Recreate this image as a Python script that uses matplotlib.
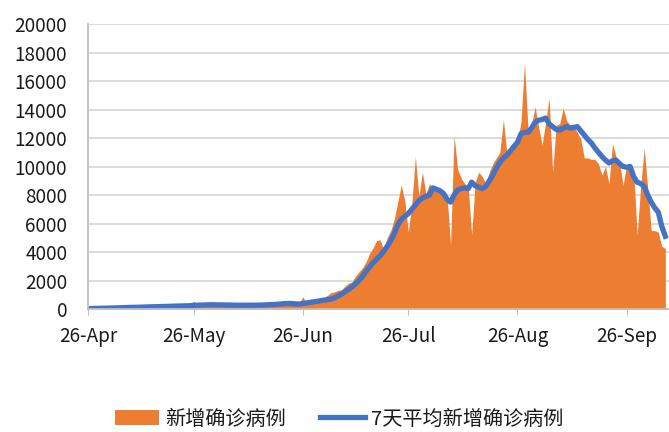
import pandas as pd
import numpy as np
import matplotlib
matplotlib.use("Agg")
import matplotlib.pyplot as plt
import matplotlib.dates as mdates

plt.rcParams['font.family'] = ['Noto Sans CJK SC', 'DejaVu Sans']

start_date = "2021-04-26"

# daily new confirmed cases
new_cases = [
    5, 10, 15, 20, 10, 30, 40, 50, 60, 70,
    80, 90, 110, 100, 120, 130, 150, 140, 160, 170,
    180, 200, 190, 210, 230, 220, 240, 250, 230, 260,
    550, 300, 260, 280, 350, 320, 290, 270, 300, 280,
    260, 250, 240, 270, 250, 230, 260, 280, 270, 290,
    300, 320, 340, 360, 380, 400, 420, 380, 350, 330,
    400, 860, 450, 500, 550, 600, 700, 800, 950, 1150,
    1200, 1300, 1350, 1600, 1800, 1900, 2300, 2600, 2900, 3300,
    3900, 4300, 4800, 4850, 4150, 5000, 5500, 6300, 7500, 8700,
    7600, 5400, 7400, 10700, 7900, 9600, 8100, 8800, 8400, 8600,
    8200, 7800, 8000, 4500, 12200, 9800, 9200, 8800, 8600, 5200,
    8900, 9600, 9300, 8800, 9600, 10200, 10600, 11000, 13300, 10900,
    11300, 11700, 11900, 13100, 17300, 12600, 12900, 14200, 12800, 11500,
    13100, 14800, 9600, 12900, 13000, 14100, 13200, 12900, 12800, 12400,
    11900, 10600, 10600, 10500, 10500, 10200, 9400, 10000, 8800, 11600,
    10700, 10300, 8700, 10100, 10000, 9800, 5200, 8600, 11300, 8500,
    5500, 5500, 5400, 4400, 4250,
]

# 7-day average line
avg_7d = [
    30, 35, 40, 45, 50, 55, 60, 70, 80, 90,
    100, 105, 110, 115, 120, 130, 140, 150, 155, 160,
    170, 175, 180, 190, 200, 205, 210, 220, 225, 230,
    260, 270, 275, 280, 290, 300, 295, 290, 285, 280,
    280, 275, 270, 265, 265, 260, 260, 265, 270, 275,
    285, 300, 310, 320, 340, 360, 380, 390, 380, 360,
    350, 380, 420, 460, 500, 540, 580, 620, 660, 680,
    780, 900, 1050, 1200, 1380, 1550, 1780, 2000, 2300, 2650,
    2950, 3250, 3500, 3750, 4050, 4400, 4800, 5300, 5900, 6300,
    6500, 6700, 7000, 7300, 7600, 7800, 7900, 8000, 8500, 8400,
    8300, 8100, 7700, 7500, 8000, 8350, 8450, 8500, 8450, 8900,
    8650, 8550, 8450, 8600, 9000, 9400, 9900, 10300, 10600, 10800,
    11100, 11400, 11700, 12300, 12400, 12400, 12700, 13100, 13250, 13300,
    13400, 13000, 12800, 12600, 12550, 12700, 12800, 12700, 12750, 12800,
    12500, 12200, 11900, 11650, 11300, 11000, 10700, 10450, 10250, 10400,
    10450, 10200, 10000, 9950, 10000, 9300, 8900, 8800, 8600, 8000,
    7500, 7100, 6800, 5800, 5100,
]

tick_dates = ["2021-04-26", "2021-05-26", "2021-06-26", "2021-07-26", "2021-08-26", "2021-09-26"]
y_ticks = list(range(0, 20001, 2000))

dates = pd.date_range(start_date, periods=len(new_cases), freq="D")

fig = plt.figure(figsize=(6.69, 4.32), dpi=100)
ax = fig.add_axes([0.1315, 0.2847, 1 - 0.1315, 0.9444 - 0.2847])

ax.fill_between(dates, new_cases, color="#ED7D31", linewidth=0, label="新增确诊病例")
ax.plot(dates, avg_7d, color="#4472C4", linewidth=3.8, solid_joinstyle="round",
        label="7天平均新增确诊病例")

ax.set_xlim(pd.Timestamp(start_date), pd.Timestamp(start_date) + pd.Timedelta(days=165.05))
ax.set_ylim(0, 20000)
ax.set_yticks(y_ticks)
ax.set_xticks(pd.to_datetime(tick_dates))
ax.xaxis.set_major_formatter(mdates.DateFormatter("%d-%b"))

ax.grid(axis="y", color="#d9d9d9", linewidth=1.3)
ax.set_axisbelow(True)
for s in ["top", "right"]:
    ax.spines[s].set_visible(False)
ax.spines["left"].set_color("#bfbfbf")
ax.spines["bottom"].set_color("#bfbfbf")
ax.spines["left"].set_linewidth(1.3)
ax.spines["bottom"].set_linewidth(1.3)
ax.tick_params(axis="y", length=0, pad=15, labelsize=13.6, labelcolor="#1a1a1a")
ax.tick_params(axis="x", length=4, color="#bfbfbf", pad=8, labelsize=13.6, labelcolor="#1a1a1a")
for lbl in ax.get_xticklabels() + ax.get_yticklabels():
    lbl.set_fontweight("medium")

leg = fig.legend(loc="center", bbox_to_anchor=(339 / 669, 0.03), ncol=2, frameon=False,
                 fontsize=14.5, handlelength=2.2, handletextpad=0.3, columnspacing=1.7,
                 labelcolor="#1a1a1a")
for t in leg.get_texts():
    t.set_fontweight("medium")

fig.savefig("out.png", dpi=100)
